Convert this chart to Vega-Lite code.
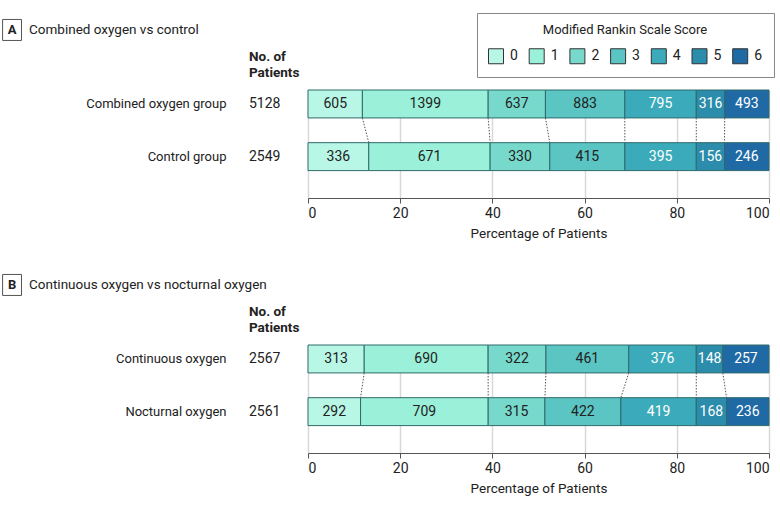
{
  "$schema": "https://vega.github.io/schema/vega-lite/v6.json",
  "autosize": {"type": "pad"},
  "padding": {"left": 0, "top": 12, "right": 4, "bottom": 4},
  "bounds": "flush",
  "spacing": 147,
  "datasets": {
    "a": [
      {"group": "Combined oxygen group", "score": 0, "n": 605},
      {"group": "Combined oxygen group", "score": 1, "n": 1399},
      {"group": "Combined oxygen group", "score": 2, "n": 637},
      {"group": "Combined oxygen group", "score": 3, "n": 883},
      {"group": "Combined oxygen group", "score": 4, "n": 795},
      {"group": "Combined oxygen group", "score": 5, "n": 316},
      {"group": "Combined oxygen group", "score": 6, "n": 493},
      {"group": "Control group", "score": 0, "n": 336},
      {"group": "Control group", "score": 1, "n": 671},
      {"group": "Control group", "score": 2, "n": 330},
      {"group": "Control group", "score": 3, "n": 415},
      {"group": "Control group", "score": 4, "n": 395},
      {"group": "Control group", "score": 5, "n": 156},
      {"group": "Control group", "score": 6, "n": 246}
    ],
    "b": [
      {"group": "Continuous oxygen", "score": 0, "n": 313},
      {"group": "Continuous oxygen", "score": 1, "n": 690},
      {"group": "Continuous oxygen", "score": 2, "n": 322},
      {"group": "Continuous oxygen", "score": 3, "n": 461},
      {"group": "Continuous oxygen", "score": 4, "n": 376},
      {"group": "Continuous oxygen", "score": 5, "n": 148},
      {"group": "Continuous oxygen", "score": 6, "n": 257},
      {"group": "Nocturnal oxygen", "score": 0, "n": 292},
      {"group": "Nocturnal oxygen", "score": 1, "n": 709},
      {"group": "Nocturnal oxygen", "score": 2, "n": 315},
      {"group": "Nocturnal oxygen", "score": 3, "n": 422},
      {"group": "Nocturnal oxygen", "score": 4, "n": 419},
      {"group": "Nocturnal oxygen", "score": 5, "n": 168},
      {"group": "Nocturnal oxygen", "score": 6, "n": 236}
    ],
    "one": [{}]
  },
  "vconcat": [
    {
      "width": 461,
      "height": 108,
      "layer": [
        {
          "data": {"name": "a"},
          "transform": [
            {"stack": "n", "groupby": ["group"], "sort": [{"field": "score", "order": "ascending"}], "offset": "normalize", "as": ["x0", "x1"]}
          ],
          "mark": {"type": "bar", "stroke": "#2f6a6a", "strokeWidth": 1},
          "encoding": {
            "x": {"field": "x0", "type": "quantitative", "scale": {"domain": [0, 1], "nice": false, "zero": false},
              "axis": {"title": "Percentage of Patients", "values": [0, 0.2, 0.4, 0.6, 0.8, 1], "labelExpr": "format(datum.value*100, 'd')"}},
            "x2": {"field": "x1"},
            "y": {"field": "group", "type": "nominal", "scale": {"domain": ["Combined oxygen group", "Control group"], "paddingInner": 0.47, "paddingOuter": 0.26, "align": 0}, "axis": {"title": null}},
            "color": {"field": "score", "type": "ordinal", "scale": {"domain": [0, 1, 2, 3, 4, 5, 6], "range": ["#b8f6e6", "#9af0d8", "#76d9cc", "#5bc5c4", "#3babbb", "#2b8cab", "#1f6aa5"]},
              "legend": {"orient": "none", "legendX": 169, "legendY": -77, "direction": "horizontal", "title": "Modified Rankin Scale Score"}}
          }
        },
        {
          "data": {"name": "a"},
          "transform": [
            {"stack": "n", "groupby": ["group"], "sort": [{"field": "score", "order": "ascending"}], "offset": "normalize", "as": ["x0", "x1"]},
            {"calculate": "(datum.x0 + datum.x1) / 2", "as": "mid"}
          ],
          "mark": {"type": "text", "fontSize": 14, "baseline": "middle", "align": "center"},
          "encoding": {
            "x": {"field": "mid", "type": "quantitative"},
            "y": {"field": "group", "type": "nominal"},
            "text": {"field": "n", "type": "quantitative"},
            "color": {"condition": {"test": "datum.score >= 4", "value": "#ffffff"}, "value": "#222222"}
          }
        },
        {
          "data": {"name": "a"},
          "transform": [
            {"stack": "n", "groupby": ["group"], "sort": [{"field": "score", "order": "ascending"}], "offset": "normalize", "as": ["x0", "x1"]},
            {"filter": "datum.score < 6"},
            {"pivot": "group", "value": "x1", "groupby": ["score"]}
          ],
          "mark": {"type": "rule", "strokeDash": [1.5, 1.5], "color": "#555555", "strokeWidth": 1, "yOffset": 14, "y2Offset": -14},
          "encoding": {
            "x": {"field": "Combined oxygen group", "type": "quantitative"},
            "x2": {"field": "Control group"},
            "y": {"datum": "Combined oxygen group", "type": "nominal"},
            "y2": {"datum": "Control group"}
          }
        },
        {
          "data": {"name": "a"},
          "transform": [{"aggregate": [{"op": "sum", "field": "n", "as": "total"}], "groupby": ["group"]}],
          "mark": {"type": "text", "fontSize": 14, "align": "left", "baseline": "middle", "color": "#222222"},
          "encoding": {
            "x": {"datum": -0.128, "type": "quantitative"},
            "y": {"field": "group", "type": "nominal"},
            "text": {"field": "total", "type": "quantitative"}
          }
        },
        {
          "data": {"name": "one"},
          "mark": {"type": "text", "fontSize": 13.5, "fontWeight": "bold", "align": "left", "baseline": "top", "lineHeight": 16, "dy": -54, "color": "#222222", "text": ["No. of", "Patients"]},
          "encoding": {
            "x": {"datum": -0.128, "type": "quantitative"},
            "y": {"datum": "Combined oxygen group", "type": "nominal"}
          }
        },
        {
          "data": {"name": "one"},
          "mark": {"type": "point", "shape": "M-0.9,-1H0.9V1H-0.9Z", "size": 441, "filled": false, "stroke": "#555555", "strokeWidth": 1, "opacity": 1, "yOffset": -74},
          "encoding": {
            "x": {"datum": -0.642, "type": "quantitative"},
            "y": {"datum": "Combined oxygen group", "type": "nominal"}
          }
        },
        {
          "data": {"name": "one"},
          "mark": {"type": "text", "fontSize": 13, "fontWeight": "bold", "align": "center", "baseline": "middle", "dy": -74, "color": "#222222", "text": "A"},
          "encoding": {
            "x": {"datum": -0.642, "type": "quantitative"},
            "y": {"datum": "Combined oxygen group", "type": "nominal"}
          }
        },
        {
          "data": {"name": "one"},
          "mark": {"type": "text", "fontSize": 13.5, "align": "left", "baseline": "middle", "dy": -74, "color": "#222222", "text": "Combined oxygen vs control"},
          "encoding": {
            "x": {"datum": -0.6052, "type": "quantitative"},
            "y": {"datum": "Combined oxygen group", "type": "nominal"}
          }
        }
      ]
    },
    {
      "width": 461,
      "height": 108,
      "layer": [
        {
          "data": {"name": "b"},
          "transform": [
            {"stack": "n", "groupby": ["group"], "sort": [{"field": "score", "order": "ascending"}], "offset": "normalize", "as": ["x0", "x1"]}
          ],
          "mark": {"type": "bar", "stroke": "#2f6a6a", "strokeWidth": 1},
          "encoding": {
            "x": {"field": "x0", "type": "quantitative", "scale": {"domain": [0, 1], "nice": false, "zero": false},
              "axis": {"title": "Percentage of Patients", "values": [0, 0.2, 0.4, 0.6, 0.8, 1], "labelExpr": "format(datum.value*100, 'd')"}},
            "x2": {"field": "x1"},
            "y": {"field": "group", "type": "nominal", "scale": {"domain": ["Continuous oxygen", "Nocturnal oxygen"], "paddingInner": 0.47, "paddingOuter": 0.26, "align": 0}, "axis": {"title": null}},
            "color": {"field": "score", "type": "ordinal", "scale": {"domain": [0, 1, 2, 3, 4, 5, 6], "range": ["#b8f6e6", "#9af0d8", "#76d9cc", "#5bc5c4", "#3babbb", "#2b8cab", "#1f6aa5"]},
              "legend": {"orient": "none", "legendX": 169, "legendY": -77, "direction": "horizontal", "title": "Modified Rankin Scale Score"}}
          }
        },
        {
          "data": {"name": "b"},
          "transform": [
            {"stack": "n", "groupby": ["group"], "sort": [{"field": "score", "order": "ascending"}], "offset": "normalize", "as": ["x0", "x1"]},
            {"calculate": "(datum.x0 + datum.x1) / 2", "as": "mid"}
          ],
          "mark": {"type": "text", "fontSize": 14, "baseline": "middle", "align": "center"},
          "encoding": {
            "x": {"field": "mid", "type": "quantitative"},
            "y": {"field": "group", "type": "nominal"},
            "text": {"field": "n", "type": "quantitative"},
            "color": {"condition": {"test": "datum.score >= 4", "value": "#ffffff"}, "value": "#222222"}
          }
        },
        {
          "data": {"name": "b"},
          "transform": [
            {"stack": "n", "groupby": ["group"], "sort": [{"field": "score", "order": "ascending"}], "offset": "normalize", "as": ["x0", "x1"]},
            {"filter": "datum.score < 6"},
            {"pivot": "group", "value": "x1", "groupby": ["score"]}
          ],
          "mark": {"type": "rule", "strokeDash": [1.5, 1.5], "color": "#555555", "strokeWidth": 1, "yOffset": 14, "y2Offset": -14},
          "encoding": {
            "x": {"field": "Continuous oxygen", "type": "quantitative"},
            "x2": {"field": "Nocturnal oxygen"},
            "y": {"datum": "Continuous oxygen", "type": "nominal"},
            "y2": {"datum": "Nocturnal oxygen"}
          }
        },
        {
          "data": {"name": "b"},
          "transform": [{"aggregate": [{"op": "sum", "field": "n", "as": "total"}], "groupby": ["group"]}],
          "mark": {"type": "text", "fontSize": 14, "align": "left", "baseline": "middle", "color": "#222222"},
          "encoding": {
            "x": {"datum": -0.128, "type": "quantitative"},
            "y": {"field": "group", "type": "nominal"},
            "text": {"field": "total", "type": "quantitative"}
          }
        },
        {
          "data": {"name": "one"},
          "mark": {"type": "text", "fontSize": 13.5, "fontWeight": "bold", "align": "left", "baseline": "top", "lineHeight": 16, "dy": -54, "color": "#222222", "text": ["No. of", "Patients"]},
          "encoding": {
            "x": {"datum": -0.128, "type": "quantitative"},
            "y": {"datum": "Continuous oxygen", "type": "nominal"}
          }
        },
        {
          "data": {"name": "one"},
          "mark": {"type": "point", "shape": "M-0.9,-1H0.9V1H-0.9Z", "size": 441, "filled": false, "stroke": "#555555", "strokeWidth": 1, "opacity": 1, "yOffset": -74},
          "encoding": {
            "x": {"datum": -0.642, "type": "quantitative"},
            "y": {"datum": "Continuous oxygen", "type": "nominal"}
          }
        },
        {
          "data": {"name": "one"},
          "mark": {"type": "text", "fontSize": 13, "fontWeight": "bold", "align": "center", "baseline": "middle", "dy": -74, "color": "#222222", "text": "B"},
          "encoding": {
            "x": {"datum": -0.642, "type": "quantitative"},
            "y": {"datum": "Continuous oxygen", "type": "nominal"}
          }
        },
        {
          "data": {"name": "one"},
          "mark": {"type": "text", "fontSize": 13.5, "align": "left", "baseline": "middle", "dy": -74, "color": "#222222", "text": "Continuous oxygen vs nocturnal oxygen"},
          "encoding": {
            "x": {"datum": -0.6052, "type": "quantitative"},
            "y": {"datum": "Continuous oxygen", "type": "nominal"}
          }
        }
      ]
    }
  ],
  "config": {
    "font": "Roboto",
    "view": {"stroke": null},
    "axisX": {
      "grid": true, "gridColor": "#d8d8d8", "gridWidth": 1.5,
      "domainColor": "#555555", "tickColor": "#555555", "tickSize": 5,
      "labelFontSize": 14, "labelColor": "#222222", "labelPadding": 3,
      "titleFontSize": 13.5, "titleFontWeight": "normal", "titleColor": "#222222", "titlePadding": 6
    },
    "axisY": {
      "domain": false, "ticks": false, "grid": false,
      "labelPadding": 82, "labelFontSize": 13, "labelColor": "#222222"
    },
    "legend": {
      "symbolType": "square", "symbolSize": 225, "symbolStrokeColor": "#333333", "symbolStrokeWidth": 1, "symbolOpacity": 1,
      "labelFontSize": 14, "labelColor": "#222222", "labelOffset": 6, "columnPadding": 8.7,
      "strokeColor": "#888888", "padding": 11,
      "titleAnchor": "middle", "titleFontSize": 13, "titleFontWeight": "normal", "titleColor": "#222222", "titlePadding": 11
    }
  }
}
